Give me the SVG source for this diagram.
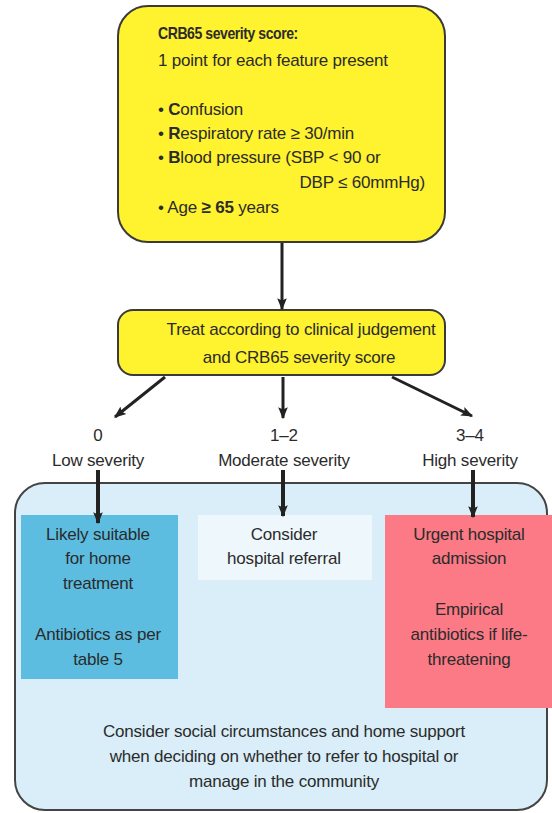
<svg xmlns="http://www.w3.org/2000/svg" width="552" height="813" viewBox="0 0 552 813">
  <defs>
    <marker id="arrow" viewBox="0 0 10 10" refX="9" refY="5" markerWidth="4" markerHeight="4" orient="auto" markerUnits="strokeWidth">
      <path d="M0,1 L10,5 L0,9 L2,5 Z" fill="#222"/>
    </marker>
    <marker id="arrowThick" viewBox="0 0 10 10" refX="9" refY="5" markerWidth="3" markerHeight="3" orient="auto" markerUnits="strokeWidth">
      <path d="M0,1 L10,5 L0,9 L2,5 Z" fill="#222"/>
    </marker>
  </defs>
  <style>
    text { font-family: "Liberation Sans", Arial, sans-serif; font-size: 17px; fill: #2b2b2b; letter-spacing: -0.2px; }
    .c { text-anchor: middle; }
    .b { font-weight: bold; }
    .title { font-weight: bold; font-size: 16.5px; letter-spacing: -0.5px; }
    .yellow { fill: #fff22e; stroke: #3a3a3a; stroke-width: 2; }
    .panel { fill: #d9eef8; stroke: #444; stroke-width: 2; }
    .conn { stroke: #222; fill: none; }
  </style>

  <rect width="552" height="813" fill="#ffffff"/>

  <!-- outer care-setting panel -->
  <g id="panel">
    <rect class="panel" x="15" y="483" width="532" height="327" rx="30"/>
  </g>

  <g id="score">
    <rect class="yellow" x="118" y="6" width="327" height="236" rx="30"/>
    <text class="title" transform="translate(158,39) scale(0.85,1)">CRB65 severity score:</text>
    <text x="158" y="66">1 point for each feature present</text>
    <text x="158" y="115">• <tspan class="b">C</tspan>onfusion</text>
    <text x="158" y="139">• <tspan class="b">R</tspan>espiratory rate ≥ 30/min</text>
    <text x="158" y="163">• <tspan class="b">B</tspan>lood pressure (SBP &lt; 90 or</text>
    <text x="425" y="188" text-anchor="end">DBP ≤ 60mmHg)</text>
    <text x="158" y="213">• Age <tspan class="b">≥ 65</tspan> years</text>
  </g>

  <g id="treat">
    <rect class="yellow" x="118" y="310" width="327" height="65" rx="15"/>
    <text x="301" y="335" class="c">Treat according to clinical judgement</text>
    <text x="299" y="363" class="c">and CRB65 severity score</text>
  </g>

  <g id="low">
    <text x="98" y="441" class="c">0</text>
    <text x="98" y="466" class="c">Low severity</text>
    <rect x="21" y="515" width="157" height="164" fill="#5cbde1"/>
    <text x="98" y="540" class="c">Likely suitable</text>
    <text x="98" y="564" class="c">for home</text>
    <text x="98" y="589" class="c">treatment</text>
    <text x="98" y="640" class="c">Antibiotics as per</text>
    <text x="98" y="665" class="c">table 5</text>
  </g>

  <g id="moderate">
    <text x="284" y="441" class="c">1–2</text>
    <text x="284" y="466" class="c">Moderate severity</text>
    <rect x="198" y="515" width="174" height="65" fill="#eef7fb"/>
    <text x="284" y="540" class="c">Consider</text>
    <text x="284" y="564" class="c">hospital referral</text>
  </g>

  <g id="high">
    <text x="470" y="441" class="c">3–4</text>
    <text x="470" y="466" class="c">High severity</text>
    <rect x="385" y="515" width="167" height="193" fill="#fb7a86"/>
    <text x="469" y="540" class="c">Urgent hospital</text>
    <text x="469" y="564" class="c">admission</text>
    <text x="469" y="615" class="c">Empirical</text>
    <text x="469" y="640" class="c">antibiotics if life-</text>
    <text x="469" y="665" class="c">threatening</text>
  </g>

  <g id="community">
    <text x="284" y="737" class="c">Consider social circumstances and home support</text>
    <text x="284" y="762" class="c">when deciding on whether to refer to hospital or</text>
    <text x="284" y="787" class="c">manage in the community</text>
  </g>

  <g id="connectors">
    <line class="conn" x1="282" y1="243" x2="282" y2="309" stroke-width="3" marker-end="url(#arrow)"/>
    <line class="conn" x1="165" y1="377" x2="115" y2="417" stroke-width="3" marker-end="url(#arrow)"/>
    <line class="conn" x1="283" y1="377" x2="283" y2="418" stroke-width="3" marker-end="url(#arrow)"/>
    <line class="conn" x1="392" y1="377" x2="472" y2="416" stroke-width="3" marker-end="url(#arrow)"/>
    <line class="conn" x1="98" y1="470" x2="98" y2="523" stroke-width="4" marker-end="url(#arrowThick)"/>
    <line class="conn" x1="283" y1="470" x2="283" y2="516" stroke-width="4" marker-end="url(#arrowThick)"/>
    <line class="conn" x1="473" y1="470" x2="473" y2="517" stroke-width="4" marker-end="url(#arrowThick)"/>
  </g>
</svg>
